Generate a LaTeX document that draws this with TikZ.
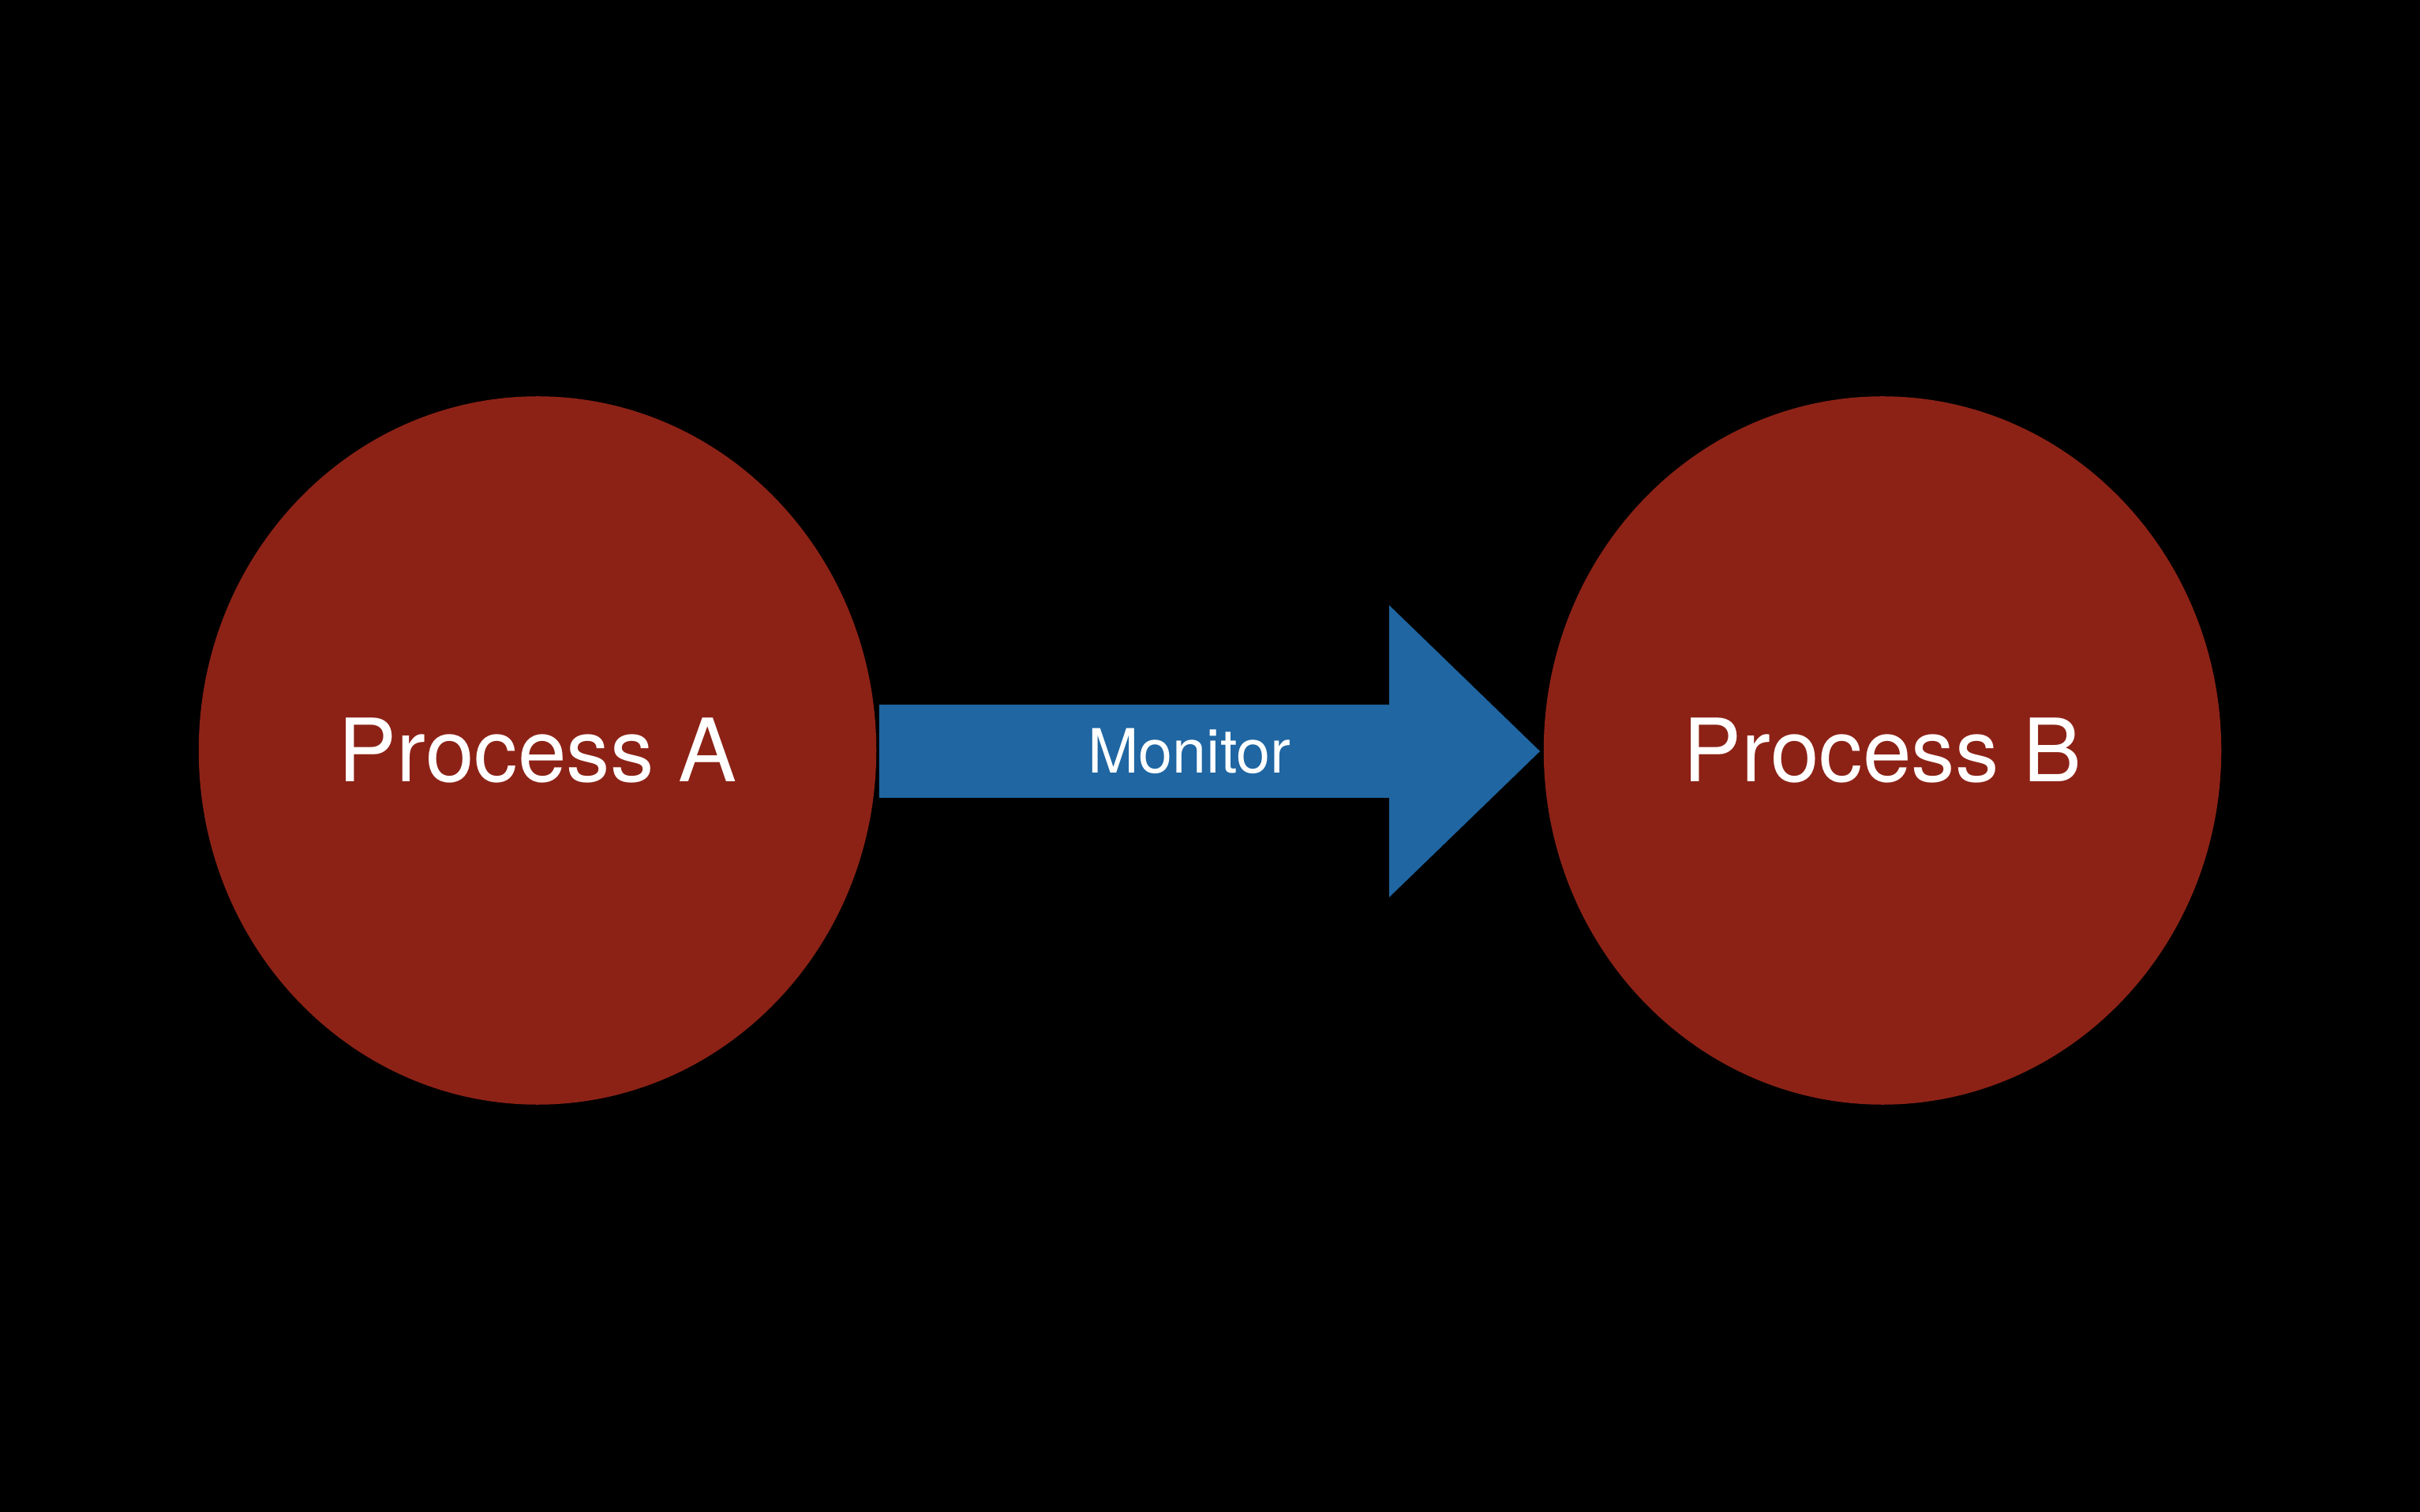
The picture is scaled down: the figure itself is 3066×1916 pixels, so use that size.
\documentclass[tikz,border=0pt]{standalone}
\usepackage{fontspec}
\setmainfont{TeX Gyre Heros}
\usetikzlibrary{shapes.geometric,calc}
\definecolor{procred}{RGB}{140,34,22}
\definecolor{arrowblue}{RGB}{31,102,162}
\tikzset{
  proc/.style={ellipse, fill=procred, draw=none, inner sep=0pt,
    minimum width=8.58cm, minimum height=8.97cm,
    text=white, font=\fontsize{31.5}{38}\selectfont},
  bigarrow/.style={fill=arrowblue, draw=none},
  arrowlabel/.style={text=white, font=\fontsize{22}{26}\selectfont, inner sep=0pt}
}
\begin{document}
\begin{tikzpicture}[x=0.01cm,y=-0.01cm]
  \fill[black] (0,0) rectangle (3066,1916);
  \useasboundingbox (0,0) rectangle (3066,1916);
  \node[proc] (A) at (681,951) {Process A};
  \node[proc] (B) at (2385,951) {Process B};
  \coordinate (s) at ($(A.east)+(3,1)$);
  \coordinate (t) at ($(B.west)+(-4,1)$);
  \path[bigarrow] ($(s)+(0,-59)$) -- ($(t)+(-191,-59)$) -- ($(t)+(-191,-185)$)
    -- (t) -- ($(t)+(-191,185)$) -- ($(t)+(-191,59)$) -- ($(s)+(0,59)$) -- cycle;
  \node[arrowlabel] (m) at (1507,952) {Monitor};
\end{tikzpicture}
\end{document}
